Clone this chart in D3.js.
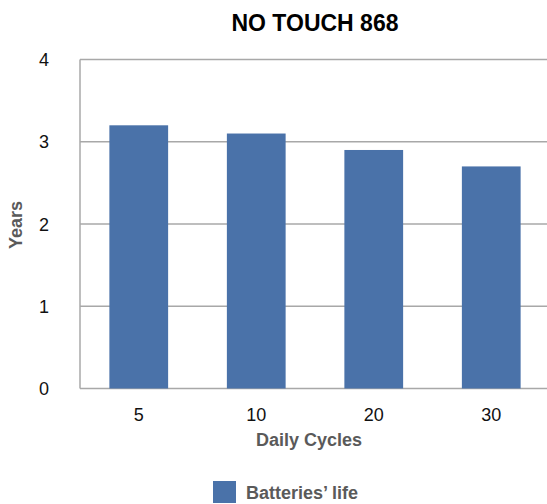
<!DOCTYPE html>
<html><head><meta charset="utf-8">
<script src="https://cdn.jsdelivr.net/npm/d3@7"></script>
<style>body{margin:0;background:#fff;}svg{display:block;font-family:"Liberation Sans",Arial,sans-serif;}</style>
</head><body>
<svg id="c" width="547" height="504"></svg>
<script>
const categories = ["5","10","20","30"];
const values = [3.2, 3.1, 2.9, 2.7];
const yTicks = [0,1,2,3,4];
const seriesName = "Batteries\u2019 life";
const title = "NO TOUCH 868";

const svg = d3.select("#c");
const mLeft = 80, mRight = 550, mTop = 59.5, mBottom = 388.5;
const x = d3.scaleBand().domain(categories).range([mLeft, mRight]).paddingInner(0.5).paddingOuter(0.25);
const y = d3.scaleLinear().domain([0,4]).range([mBottom, mTop]);
const color = "#4a72a9";

// grid
svg.append("g").selectAll("line").data(yTicks).join("line")
  .attr("x1", mLeft).attr("x2", 547).attr("y1", d=>y(d)).attr("y2", d=>y(d))
  .attr("stroke", "#a8a8a8").attr("stroke-width", 1.5);
svg.append("line").attr("x1", mLeft).attr("x2", mLeft).attr("y1", mTop).attr("y2", mBottom)
  .attr("stroke", "#a8a8a8").attr("stroke-width", 1.5);

// bars
svg.append("g").selectAll("rect").data(values).join("rect")
  .attr("x", (d,i)=>x(categories[i])).attr("width", x.bandwidth())
  .attr("y", d=>y(d)).attr("height", d=>y(0)-y(d)).attr("fill", color);

// y labels
svg.append("g").selectAll("text").data(yTicks).join("text")
  .attr("x", 49).attr("y", d=>y(d)+6.5).attr("text-anchor", "end")
  .attr("font-size", 18).attr("fill", "#111").text(d=>d);
// x labels
svg.append("g").selectAll("text").data(categories).join("text")
  .attr("x", d=>x(d)+x.bandwidth()/2).attr("y", 421).attr("text-anchor", "middle")
  .attr("font-size", 18).attr("fill", "#111").text(d=>d);

// titles
svg.append("text").attr("x", 315).attr("y", 31).attr("text-anchor", "middle")
  .attr("font-size", 23).attr("font-weight", "bold").attr("fill", "#000").text(title);
svg.append("text").attr("x", 309).attr("y", 446).attr("text-anchor", "middle")
  .attr("font-size", 18).attr("font-weight", "bold").attr("fill", "#5a5a5a").text("Daily Cycles");
svg.append("text").attr("transform", "translate(22,225) rotate(-90)").attr("text-anchor", "middle")
  .attr("font-size", 18).attr("font-weight", "bold").attr("fill", "#5a5a5a").text("Years");

// legend
svg.append("rect").attr("x", 213).attr("y", 481).attr("width", 23).attr("height", 22).attr("fill", color);
svg.append("text").attr("x", 246).attr("y", 499).attr("font-size", 18).attr("font-weight", "bold")
  .attr("fill", "#5a5a5a").text(seriesName);
</script>
</body></html>
